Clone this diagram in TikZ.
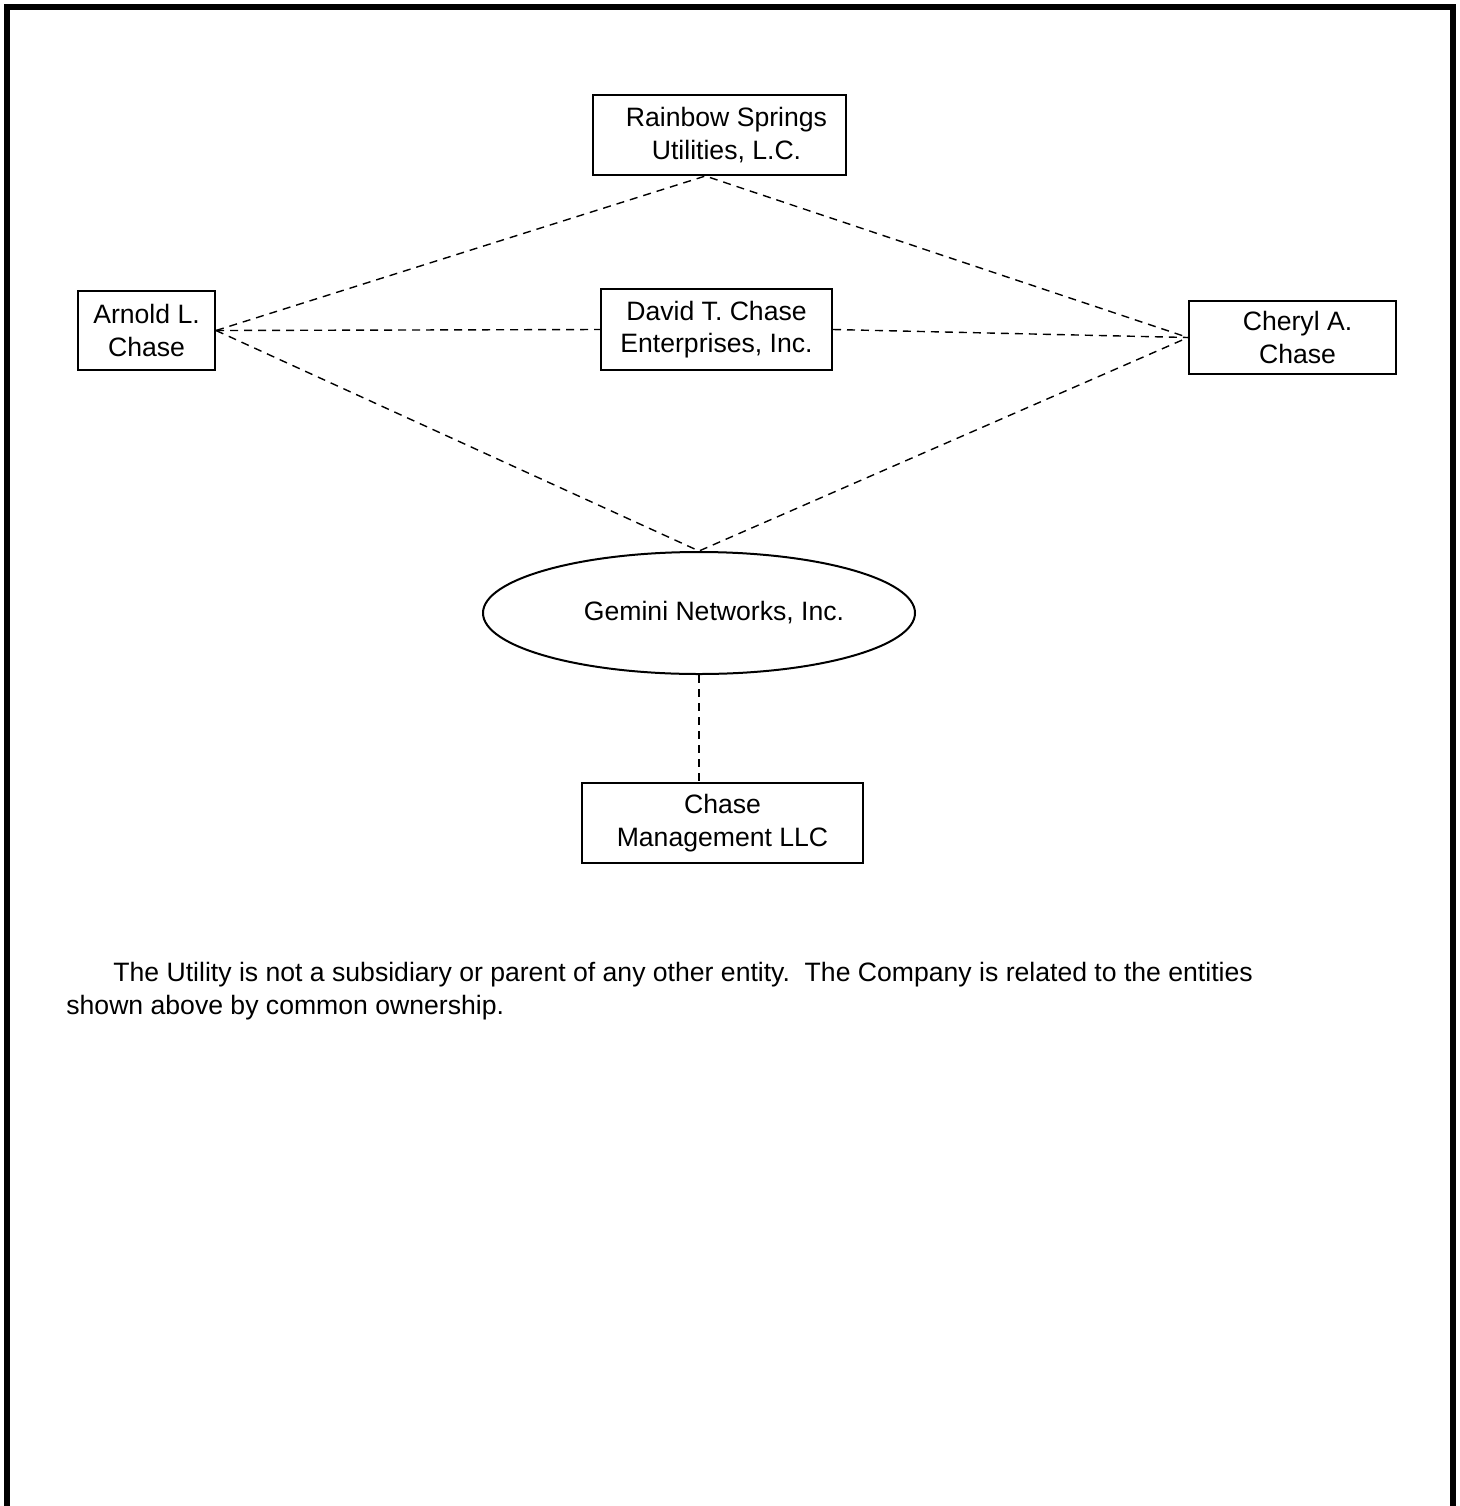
\documentclass[tikz,border=0pt]{standalone}
\usepackage{fontspec}
\setmainfont{Liberation Sans}
\usetikzlibrary{shapes.geometric}

\begin{document}
\begin{tikzpicture}[x=0.5pt, y=-0.5pt,
    entity/.style={draw, line width=1pt, align=center, inner sep=0pt,
      font=\fontsize{13.3}{16.2}\selectfont},
    link/.style={dash pattern=on 4pt off 3pt, line width=0.7pt},
    note/.style={anchor=base west, inner sep=0pt, font=\fontsize{13.3}{16.2}\selectfont}]
  \useasboundingbox (0,0) rectangle (1460,1506);
  \draw[line width=3pt] (7,1506) -- (7,6.5) -- (1452.5,6.5) -- (1452.5,1506);

  \node[entity, minimum width=126.5pt, minimum height=40pt] (rainbow) at (719.5,135) {\hspace*{7pt}Rainbow Springs\\\hspace*{7pt}Utilities, L.C.};
  \node[entity, minimum width=68.5pt, minimum height=39.5pt] (arnold) at (146.5,330.5) {Arnold L.\\Chase};
  \node[entity, minimum width=115.5pt, minimum height=40.5pt] (david) at (716.5,329.5) {David T. Chase\\Enterprises, Inc.};
  \node[entity, minimum width=103.5pt, minimum height=36.5pt] (cheryl) at (1292.5,337.5) {\hspace*{5pt}Cheryl A.\\\hspace*{5pt}Chase};
  \node[entity, ellipse, minimum width=216pt, minimum height=61pt] (gemini) at (699,613) {\hspace*{15pt}Gemini Networks, Inc.};
  \node[entity, minimum width=140.5pt, minimum height=40pt] (chasemgmt) at (722.5,823) {Chase\\Management LLC};

  \draw[link] (arnold.east) -- (rainbow.-109) -- (cheryl.west);
  \draw[link] (arnold.east) -- (david.west);
  \draw[link] (david.east) -- (cheryl.west);
  \draw[link] (arnold.east) -- (gemini.north) -- (cheryl.west);
  \draw[link] (gemini.south) -- (gemini.south |- chasemgmt.north);

  \node[note] (par1) at (113,981) {The Utility is not a subsidiary or parent of any other entity.\ \ The Company is related to the entities};
  \node[note] (par2) at (66,1014) {shown above by common ownership.};
\end{tikzpicture}
\end{document}
